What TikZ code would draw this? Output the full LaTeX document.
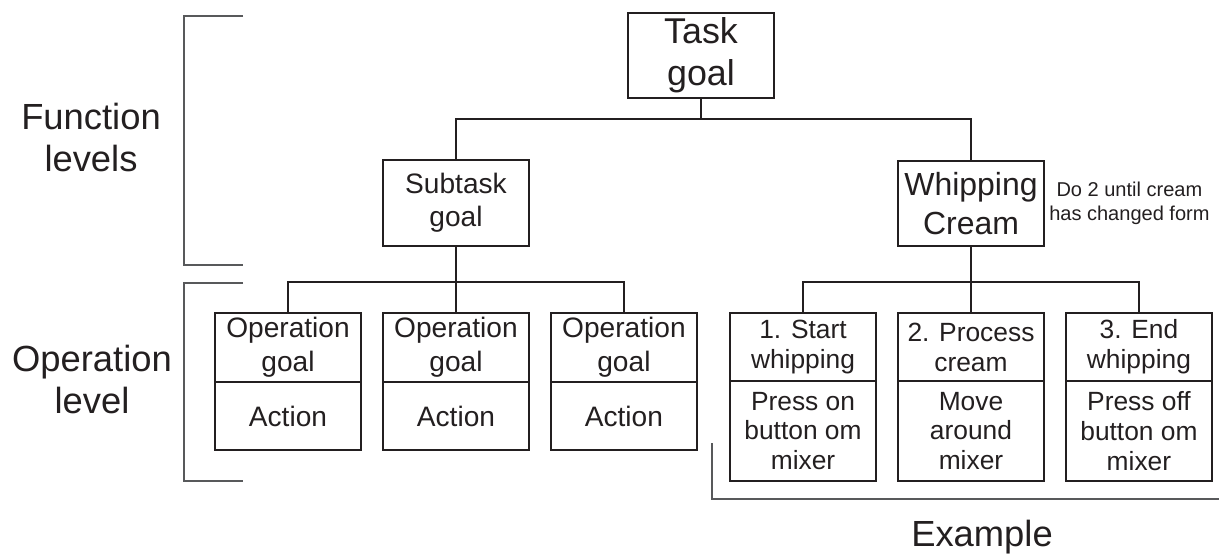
\documentclass[tikz,border=0pt]{standalone}
\usepackage{fontspec}
\setmainfont{Liberation Sans}
\usetikzlibrary{positioning}
\definecolor{ink}{HTML}{231F20}
\definecolor{bracegray}{HTML}{58595B}

\begin{document}
\begin{tikzpicture}[
    x=0.02cm, y=-0.02cm,
    every node/.style={text=ink, align=center, inner sep=0pt, outer sep=0pt},
    box/.style={draw=ink, line width=1.1pt, minimum width=2.93cm},
    goalbox/.style={box, minimum height=1.38cm, font=\fontsize{16}{19.3}\selectfont},
    actbox/.style={box, minimum height=1.36cm, font=\fontsize{16}{19.3}\selectfont},
    stepbox/.style={box, minimum height=1.36cm, font=\fontsize{15}{17}\selectfont},
    howbox/.style={box, minimum height=2cm, font=\fontsize{15}{17}\selectfont},
    sidelabel/.style={font=\fontsize{20.7}{24}\selectfont},
    conn/.style={draw=ink, line width=1.1pt},
    brace/.style={draw=bracegray, line width=0.6pt}
]
\useasboundingbox (0,0) rectangle (1219,554);

% Function level
\node[box, minimum height=1.7cm, font=\fontsize{20.4}{23.8}\selectfont] (task) at (701,55.5) {Task\\goal};
\node[box, minimum height=1.72cm, font=\fontsize{16}{18.7}\selectfont] (sub) at (456,203) {Subtask\\goal};
\node[box, minimum height=1.7cm, font=\fontsize{18.2}{22}\selectfont] (whip) at (971,203.5) {Whipping\\Cream};
\node[font=\fontsize{11.4}{13.6}\selectfont, right=0.1cm of whip] (note) {Do 2 until cream\\has changed form};

% Operation level: generic
\node[goalbox] (opA) at (288,347.5) {Operation\\goal};
\node[goalbox, right=0.43cm of opA] (opB) {Operation\\goal};
\node[goalbox, right=0.43cm of opB] (opC) {Operation\\goal};
\node[actbox, below=0pt of opA] (actA) {Action};
\node[actbox, below=0pt of opB] (actB) {Action};
\node[actbox, below=0pt of opC] (actC) {Action};

% Operation level: example
\node[stepbox] (stA) at (803,347) {1. Start\\whipping};
\node[stepbox, right=0.43cm of stA] (stB) {2. Process\\cream};
\node[stepbox, right=0.43cm of stB] (stC) {3. End\\whipping};
\node[howbox, below=0pt of stA] (hwA) {Press on\\button om\\mixer};
\node[howbox, below=0pt of stB] (hwB) {Move\\around\\mixer};
\node[howbox, below=0pt of stC] (hwC) {Press off\\button om\\mixer};

% Tree connectors
\draw[conn] (task.south) -- ++(0,21) -| (sub.north);
\draw[conn] (task.south) -- ++(0,21) -| (whip.north);
\foreach \n in {opA,opB,opC}
    \draw[conn] (sub.south) -- ++(0,36) -| (\n.north);
\foreach \n in {stA,stB,stC}
    \draw[conn] (whip.south) -- ++(0,36) -| (\n.north);

% Brackets and labels
\draw[brace] (243,16) -- (184,16) -- (184,265) -- (243,265);
\draw[brace] (243,283) -- (184,283) -- (184,481) -- (243,481);
\draw[brace] (712,443) -- (712,499) -- (1219,499);
\node[sidelabel] (funlev) at (91,137.7) {Function\\levels};
\node[sidelabel] (oplev) at (92,379.7) {Operation\\level};
\node[sidelabel, anchor=base] (ex) at (982,546) {Example};
\end{tikzpicture}
\end{document}
